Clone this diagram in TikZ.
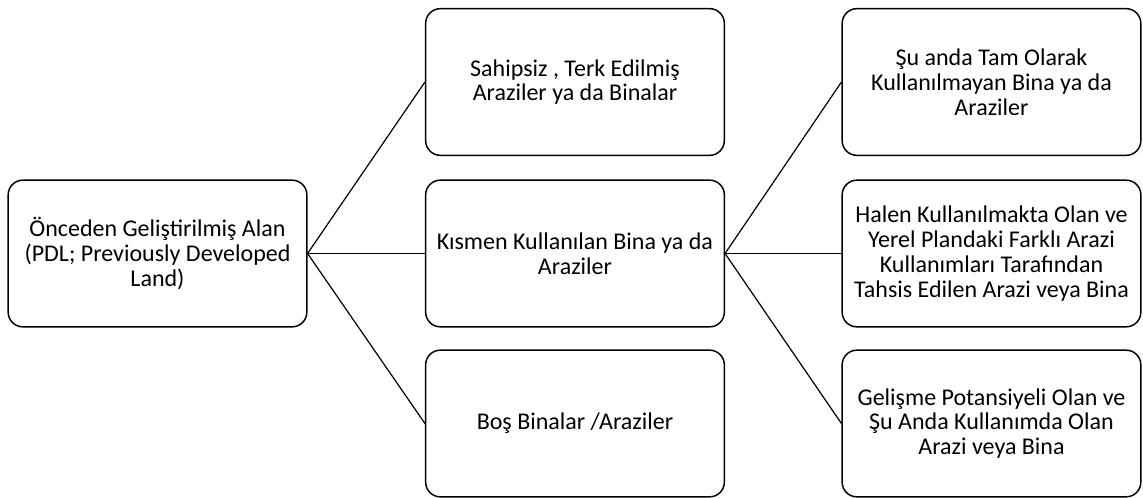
\documentclass[tikz,border=0pt]{standalone}
\usepackage{fontspec}
\setmainfont{Carlito}
\usepackage{tikz}

\begin{document}
\begin{tikzpicture}[x=0.75pt,y=-0.75pt,
	box/.style={draw, rounded corners=11pt, line width=1.1pt, minimum width=224pt, minimum height=110pt, align=center, font=\fontsize{18}{18.6}\selectfont},
	link/.style={line width=0.9pt}]
	\useasboundingbox (0,0) rectangle (1143,497);
	\node[box] (1) at (157.5,253.5) {Önceden Geliştirilmiş Alan\\(PDL; Previously Developed\\Land)};
	\node[box] (2) at (575,82) {Sahipsiz , Terk Edilmiş\\Araziler ya da Binalar};
	\node[box] (3) at (575,253.5) {Kısmen Kullanılan Bina ya da\\Araziler};
	\node[box] (4) at (575,423.5) {Boş Binalar /Araziler};
	\node[box] (5) at (991.5,82) {Şu anda Tam Olarak\\Kullanılmayan Bina ya da\\Araziler};
	\node[box] (6) at (991.5,253.5) {Halen Kullanılmakta Olan ve\\Yerel Plandaki Farklı Arazi\\Kullanımları Tarafından\\Tahsis Edilen Arazi veya Bina};
	\node[box] (7) at (991.5,423.5) {Gelişme Potansiyeli Olan ve\\Şu Anda Kullanımda Olan\\Arazi veya Bina};
	
	% node 1
	\draw[link](1.east) -- (2.west);
	\draw[link](1.east) -- (3.west);
	\draw[link](1.east) -- (4.west);
	% node 3
	\draw[link](3.east) -- (5.west);
	\draw[link](3.east) -- (6.west);
	\draw[link](3.east) -- (7.west);
\end{tikzpicture}
\end{document}
